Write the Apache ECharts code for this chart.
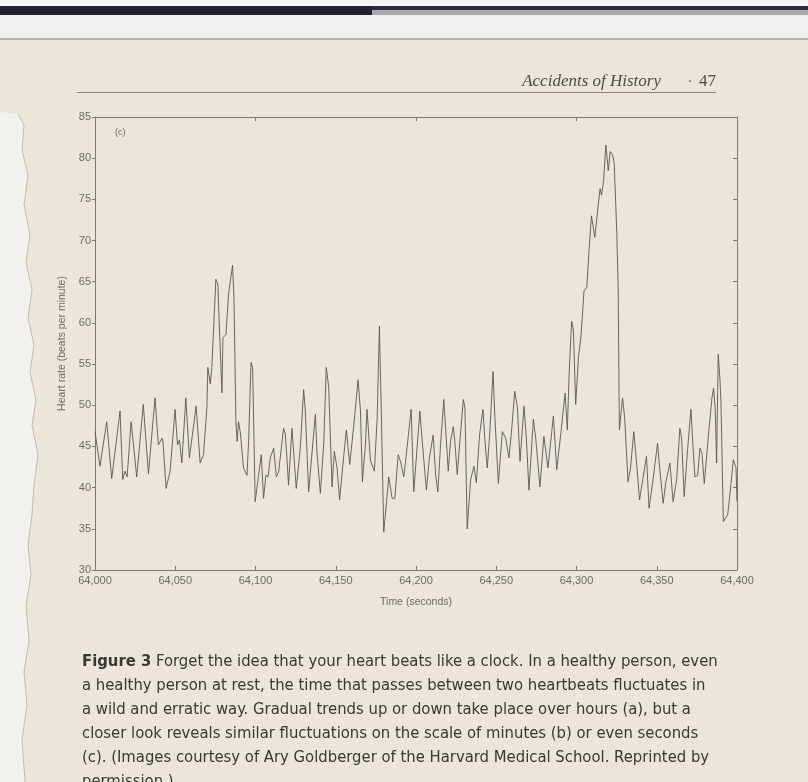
<!DOCTYPE html>
<html>
<head>
<meta charset="utf-8">
<title>Heart rate (c)</title>
<script src="https://cdn.jsdelivr.net/npm/echarts/dist/echarts.min.js"></script>
<style>
  html, body { margin: 0; padding: 0; background: #ebe5da; }
  #main { width: 808px; height: 782px; }
</style>
</head>
<body>
<div id="main"></div>
<script>
// time (seconds) and heart rate (beats per minute)
var times = [
  64000.0, 64003.1, 64007.3, 64010.4, 64015.6, 64017.3, 64018.7, 64020.0, 64022.5, 64026.0,
  64030.1, 64033.3, 64037.4, 64039.5, 64041.8, 64042.4, 64044.3, 64046.8, 64049.9, 64051.4,
  64052.6, 64054.1, 64056.6, 64058.8, 64063.0, 64065.5, 64067.6, 64069.7, 64070.3, 64071.8,
  64072.8, 64075.3, 64076.6, 64077.4, 64079.1, 64079.7, 64081.6, 64083.2, 64085.7, 64086.6,
  64087.8, 64088.6, 64089.4, 64090.5, 64092.5, 64094.7, 64095.7, 64097.2, 64098.2, 64099.8,
  64101.9, 64103.6, 64105.0, 64106.5, 64107.8, 64109.2, 64111.3, 64113.0, 64114.4, 64117.5,
  64118.6, 64120.6, 64122.7, 64123.7, 64125.4, 64127.9, 64130.0, 64131.0, 64133.1, 64137.3,
  64138.3, 64140.4, 64142.5, 64144.1, 64145.6, 64147.7, 64149.1, 64150.8, 64152.4, 64154.9,
  64156.6, 64158.7, 64161.2, 64163.9, 64165.4, 64166.6, 64168.5, 64169.5, 64170.5, 64171.6,
  64172.7, 64174.1, 64175.8, 64177.2, 64178.5, 64179.9, 64181.6, 64183.0, 64185.1, 64186.8,
  64188.9, 64190.3, 64192.4, 64194.5, 64197.0, 64198.6, 64202.4, 64203.9, 64206.5, 64208.4,
  64210.7, 64212.2, 64213.6, 64215.3, 64217.3, 64218.4, 64220.1, 64221.5, 64223.2, 64224.2,
  64225.7, 64227.3, 64229.5, 64230.5, 64231.9, 64234.0, 64236.1, 64237.6, 64239.6, 64241.7,
  64243.0, 64244.4, 64246.1, 64248.0, 64249.2, 64251.3, 64253.8, 64255.9, 64257.9, 64259.6,
  64261.5, 64263.2, 64264.8, 64267.3, 64268.8, 64270.4, 64273.1, 64274.6, 64277.2, 64279.7,
  64282.2, 64285.6, 64287.7, 64290.2, 64292.9, 64294.3, 64295.4, 64297.0, 64298.1, 64299.5,
  64301.2, 64302.7, 64303.7, 64304.7, 64306.4, 64307.8, 64309.3, 64311.4, 64313.5, 64314.7,
  64315.6, 64316.9, 64318.3, 64319.8, 64321.0, 64322.5, 64323.5, 64325.1, 64326.0, 64326.7,
  64328.7, 64330.0, 64332.1, 64333.6, 64335.7, 64337.2, 64339.3, 64341.3, 64343.6, 64345.2,
  64347.7, 64350.5, 64351.5, 64354.0, 64355.7, 64358.2, 64360.2, 64362.4, 64364.4, 64365.5,
  64367.1, 64369.2, 64371.3, 64372.4, 64373.8, 64375.5, 64376.9, 64378.2, 64379.6, 64382.3,
  64384.4, 64385.4, 64386.4, 64387.3, 64388.3, 64389.4, 64390.0, 64391.5, 64394.2, 64396.3,
  64397.7, 64399.4, 64400.0
];
var heartRate = [
  46.8, 42.6, 48.0, 41.1, 49.3, 41.0, 42.0, 41.3, 48.0, 41.3,
  50.1, 41.7, 50.9, 45.2, 46.0, 45.5, 39.9, 42.0, 49.5, 45.2,
  45.8, 43.0, 50.9, 43.6, 49.9, 43.0, 44.0, 49.7, 54.6, 52.6,
  54.6, 65.3, 64.6, 59.9, 51.5, 58.2, 58.6, 63.5, 67.0, 63.0,
  48.0, 45.6, 48.0, 46.8, 42.4, 41.5, 45.6, 55.2, 54.6, 38.3,
  41.5, 44.0, 38.7, 41.5, 41.3, 43.6, 44.8, 41.3, 41.9, 47.2,
  46.5, 40.3, 47.2, 47.2, 39.9, 44.8, 51.9, 49.5, 39.5, 48.9,
  44.3, 39.3, 45.3, 54.6, 52.2, 40.1, 44.4, 42.4, 38.5, 43.7,
  47.0, 42.8, 47.5, 53.1, 49.3, 40.7, 45.3, 49.5, 49.3, 43.3,
  43.3, 42.0, 48.5, 59.6, 48.1, 34.6, 38.2, 41.3, 38.7, 38.7,
  44.0, 43.2, 41.3, 45.0, 49.5, 39.5, 49.3, 45.6, 39.7, 43.7,
  46.4, 41.6, 39.5, 45.2, 50.7, 47.3, 42.0, 45.6, 47.4, 45.6,
  41.6, 45.6, 50.7, 49.7, 35.0, 40.9, 42.6, 40.6, 46.4, 49.5,
  45.6, 42.4, 47.0, 54.1, 48.4, 40.5, 46.8, 46.0, 43.6, 47.0,
  51.7, 49.7, 43.2, 49.9, 45.8, 39.7, 48.3, 46.0, 40.1, 46.2,
  42.4, 48.7, 42.2, 46.5, 51.5, 47.0, 53.9, 60.2, 59.0, 50.1,
  55.8, 58.2, 58.2, 63.9, 64.3, 68.8, 73.0, 70.4, 74.2, 76.3,
  75.5, 77.3, 81.6, 78.5, 80.8, 80.4, 79.4, 71.0, 63.9, 47.0,
  50.9, 48.5, 40.7, 42.3, 46.8, 43.5, 38.5, 41.0, 43.8, 37.5,
  41.0, 45.4, 43.0, 38.1, 40.7, 43.0, 38.3, 41.0, 47.2, 46.0,
  38.9, 44.6, 49.5, 45.6, 41.3, 41.5, 44.8, 44.2, 40.5, 46.5,
  50.9, 52.1, 49.7, 43.0, 56.2, 53.0, 50.5, 35.9, 36.7, 40.5,
  43.4, 42.4, 38.3
];

var xTicks = [64000, 64400, 50];   // min, max, step
var yTicks = [30, 85, 5];

var captionLines = [
  "a healthy person at rest, the time that passes between two heartbeats fluctuates in",
  "a wild and erratic way. Gradual trends up or down take place over hours (a), but a",
  "closer look reveals similar fluctuations on the scale of minutes (b) or even seconds",
  "(c). (Images courtesy of Ary Goldberger of the Harvard Medical School. Reprinted by",
  "permission.)"
];

var seriesData = times.map(function (t, i) { return [t, heartRate[i]]; });

var axisGray = "#7d7a75";
var labelGray = "#6e6b66";
var capFont = '"Liberation Sans Narrow", "DejaVu Sans Condensed", "Roboto", sans-serif';

// torn paper edge on the left
var edgePts = [[0, 112], [18, 114], [24, 125], [22, 150], [28, 175], [24, 205], [30, 235],
  [26, 262], [32, 290], [28, 318], [34, 345], [30, 372], [36, 400], [32, 425], [38, 455],
  [34, 485], [32, 515], [28, 545], [31, 575], [26, 605], [29, 640], [24, 672], [27, 705],
  [22, 740], [25, 782], [0, 782]];

var graphics = [
  { type: "rect", shape: { x: 0, y: 0, width: 808, height: 40 }, style: { fill: "#f0f0ee" }, silent: true },
  { type: "rect", shape: { x: 0, y: 0, width: 808, height: 6 }, style: { fill: "#f6f6f6" }, silent: true },
  { type: "rect", shape: { x: 0, y: 6, width: 372, height: 9 }, style: { fill: "#1f2430" }, silent: true },
  { type: "rect", shape: { x: 372, y: 6, width: 436, height: 4 }, style: { fill: "#2a2f39" }, silent: true },
  { type: "rect", shape: { x: 372, y: 10, width: 436, height: 5 }, style: { fill: "#a9acb0" }, silent: true },
  { type: "rect", shape: { x: 0, y: 38, width: 808, height: 2 }, style: { fill: "#b8b2a7" }, silent: true },
  { type: "polygon", shape: { points: edgePts }, style: { fill: "#f3f1ed" }, silent: true },
  { type: "polyline", shape: { points: edgePts.slice(1, -1) }, style: { stroke: "#c2bdb4", lineWidth: 1, fill: null }, silent: true },
  // running head
  { type: "text", x: 661, y: 82, style: { text: "Accidents of History", font: 'italic 17px "Liberation Serif", serif', fill: "#4e4b47", textAlign: "right", textVerticalAlign: "middle" }, silent: true },
  { type: "text", x: 690, y: 82, style: { text: "·", font: '14px "Liberation Serif", serif', fill: "#4e4b47", textAlign: "center", textVerticalAlign: "middle" }, silent: true },
  { type: "text", x: 716, y: 82, style: { text: "47", font: '17px "Liberation Serif", serif', fill: "#4e4b47", textAlign: "right", textVerticalAlign: "middle" }, silent: true },
  { type: "rect", shape: { x: 77, y: 92, width: 639, height: 1 }, style: { fill: "#8c877f" }, silent: true },
  // panel tag
  { type: "text", x: 115, y: 133, style: { text: "(c)", font: '9px "Liberation Sans", sans-serif', fill: labelGray, textVerticalAlign: "middle" }, silent: true },
  // caption
  { type: "text", x: 82, y: 662, style: {
      text: "{b|Figure 3} Forget the idea that your heart beats like a clock. In a healthy person, even",
      rich: { b: { font: "bold 16.5px " + capFont, fill: "#3a3835" } },
      font: "16.5px " + capFont, fill: "#3a3835", textVerticalAlign: "middle" }, silent: true }
];
captionLines.forEach(function (line, i) {
  graphics.push({ type: "text", x: 82, y: 686 + i * 24, style: {
    text: line, font: "16.5px " + capFont, fill: "#3a3835", textVerticalAlign: "middle" }, silent: true });
});

var myChart = echarts.init(document.getElementById("main"));
myChart.setOption({
  backgroundColor: "#ebe5da",
  animation: false,
  grid: { left: 95, right: 71, top: 117, bottom: 212 },
  xAxis: [
    {
      type: "value",
      min: xTicks[0],
      max: xTicks[1],
      interval: xTicks[2],
      name: "Time (seconds)",
      nameLocation: "middle",
      nameGap: 27,
      nameTextStyle: { color: labelGray, fontSize: 10.5, fontFamily: "Liberation Sans" },
      axisLine: { lineStyle: { color: axisGray, width: 1 } },
      axisTick: { inside: true, length: 4, lineStyle: { color: axisGray } },
      axisLabel: {
        color: labelGray, fontSize: 11, fontFamily: "Liberation Sans", margin: 5,
        formatter: function (v) { return String(v).replace(/\B(?=(\d{3})+(?!\d))/g, ","); }
      },
      splitLine: { show: false }
    },
    {
      type: "value",
      position: "top",
      min: xTicks[0],
      max: xTicks[1],
      interval: 100,
      axisLine: { show: true, lineStyle: { color: axisGray, width: 1 } },
      axisTick: { inside: true, length: 4, lineStyle: { color: axisGray } },
      axisLabel: { show: false },
      splitLine: { show: false }
    }
  ],
  yAxis: [
    {
      type: "value",
      min: yTicks[0],
      max: yTicks[1],
      interval: yTicks[2],
      name: "Heart rate (beats per minute)",
      nameLocation: "middle",
      nameGap: 27,
      nameTextStyle: { color: labelGray, fontSize: 10.5, fontFamily: "Liberation Sans" },
      axisLine: { show: true, lineStyle: { color: axisGray, width: 1 } },
      axisTick: { show: true, inside: false, length: 3, lineStyle: { color: axisGray } },
      axisLabel: { color: labelGray, fontSize: 11, fontFamily: "Liberation Sans", margin: 4 },
      splitLine: { show: false }
    },
    {
      type: "value",
      position: "right",
      min: yTicks[0],
      max: yTicks[1],
      interval: yTicks[2],
      axisLine: { show: true, lineStyle: { color: axisGray, width: 1 } },
      axisTick: { show: true, inside: true, length: 4, lineStyle: { color: axisGray } },
      axisLabel: { show: false },
      splitLine: { show: false }
    }
  ],
  series: [
    {
      type: "line",
      data: seriesData,
      xAxisIndex: 0,
      yAxisIndex: 0,
      symbol: "none",
      smooth: false,
      lineStyle: { color: "#5a5753", width: 0.9 }
    }
  ],
  graphic: graphics
});
</script>
</body>
</html>
